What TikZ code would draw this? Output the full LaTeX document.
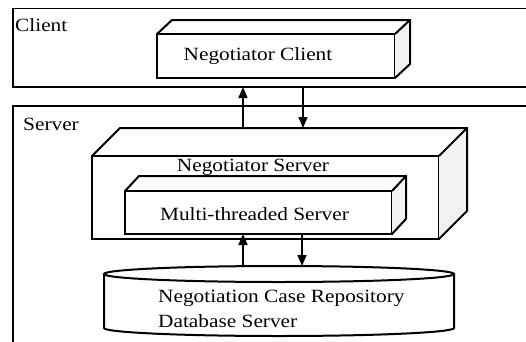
\documentclass[tikz,border=0pt]{standalone}
\usepackage{graphicx}
\usepackage{fontspec}
\setmainfont{Liberation Serif}
\usetikzlibrary{arrows.meta,calc}

% text is set a little wider than normal
\newcommand{\wide}[1]{\scalebox{1.14}[1]{#1}}

% top and right faces of a solid box behind front node #1, depth (#2,#3)
\newcommand{\solidfaces}[3]{%
  \fill[side] (#1.north east) -- ++(#2,#3) -- ($(#1.south east)+(#2,#3)$) -- (#1.south east) -- cycle;
  \draw[edge] (#1.north west) -- ++(#2,#3) -- ($(#1.north east)+(#2,#3)$)
    -- ($(#1.south east)+(#2,#3)$) -- (#1.south east)
    (#1.north east) -- ++(#2,#3);}

\begin{document}
\begin{tikzpicture}[x=1pt, y=1pt,
  every node/.style={font=\fontsize{18.7}{25}\selectfont},
  region/.style={draw, line width=1.6pt, outer sep=0pt, anchor=north west},
  box/.style={draw, line width=2pt, fill=white, outer sep=0pt, inner sep=0pt},
  edge/.style={line width=2pt, line join=miter},
  side/.style={fill=black!5},
  lbl/.style={inner sep=0pt},
  link/.style={line width=1.4pt, -{Triangle[length=11pt,width=9pt]}}]

\useasboundingbox (0,0) rectangle (526,341);
\clip (0,0) rectangle (526,341);

% client and server areas
\node[region, minimum width=530pt, minimum height=78.5pt] (client) at (13,332.5) {};
\node[region, minimum width=530pt, minimum height=250pt] (server) at (13,235) {};
\node[lbl, anchor=west] (clientlbl) at (15,316) {\wide{Client}};
\node[lbl, anchor=west] (serverlbl) at (23,217) {\wide{Server}};

% negotiator client
\node[box, minimum width=238pt, minimum height=44pt] (nc) at (276,285) {};
\solidfaces{nc}{15}{14}
\node[lbl] (nclbl) at (258,285) {\wide{Negotiator Client}};

% negotiator server with the multi-threaded server inside
\node[box, minimum width=347pt, minimum height=83pt] (ns) at (265.5,143.5) {};
\solidfaces{ns}{28}{28}
\node[box, minimum width=267pt, minimum height=43pt] (mt) at (258.5,128.5) {};
\solidfaces{mt}{14}{15}
\node[lbl] (nslbl) at (253,174) {\wide{Negotiator Server}};
\node[lbl] (mtlbl) at (254.5,127) {\wide{Multi-threaded Server}};

% database cylinder
\draw[edge] (104,67) -- (104,13) arc[start angle=180, end angle=360, x radius=175, y radius=8] -- (454,67);
\draw[edge, fill=white] (279,67) ellipse[x radius=175, y radius=8];
\node[lbl, anchor=west, align=left] (db) at (158,32.5)
  {\wide{Negotiation Case Repository}\\\wide{Database Server}};

% requests and replies
\coordinate (up1) at (243,213);
\coordinate (dn1) at (303,213);
\draw[link] (up1) -- (up1 |- client.south);
\draw[link] (dn1 |- client.south) -- (dn1);

\coordinate (up2) at (243,74);
\coordinate (dn2) at (302,75);
\draw[link] (up2) -- (up2 |- mt.south);
\draw[link] (dn2 |- mt.south) -- (dn2);
\end{tikzpicture}
\end{document}
